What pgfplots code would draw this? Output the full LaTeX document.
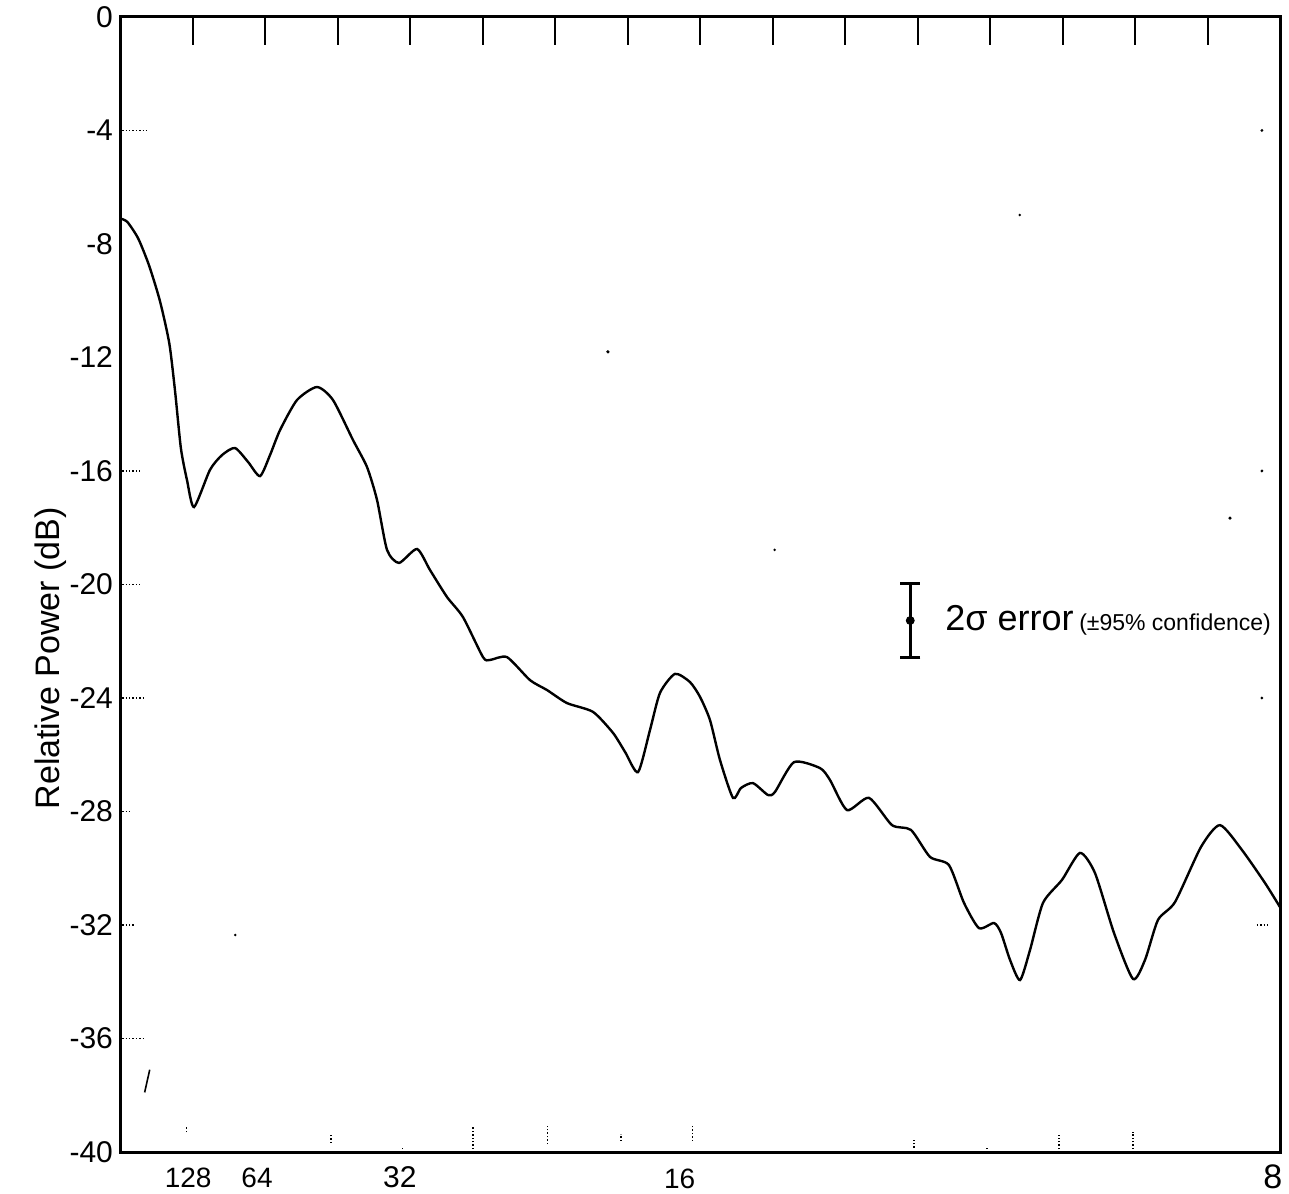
\documentclass[border=0pt]{standalone}
\usepackage{fontspec}
\setmainfont{Liberation Sans}
\usepackage{pgfplots}
\pgfplotsset{compat=1.18}
\usepackage{pgfplotstable}
\pgfplotstableread{
x y
0.000 -7.10
0.100 -7.22
0.250 -7.80
0.400 -8.75
0.550 -10.00
0.680 -11.50
0.760 -13.20
0.840 -15.20
0.924 -16.32
1.021 -17.27
1.241 -15.96
1.407 -15.44
1.586 -15.19
1.766 -15.68
1.931 -16.18
2.069 -15.44
2.207 -14.56
2.441 -13.50
2.717 -13.04
2.938 -13.50
3.214 -14.91
3.407 -15.86
3.545 -17.02
3.683 -18.78
3.848 -19.24
4.097 -18.75
4.276 -19.49
4.510 -20.44
4.731 -21.15
5.007 -22.56
5.103 -22.66
5.338 -22.56
5.655 -23.37
5.890 -23.72
6.166 -24.18
6.524 -24.49
6.800 -25.23
6.966 -25.90
7.145 -26.61
7.310 -25.13
7.448 -23.82
7.655 -23.15
7.862 -23.44
8.000 -23.96
8.138 -24.78
8.276 -26.19
8.455 -27.52
8.566 -27.17
8.731 -27.00
8.938 -27.42
9.034 -27.31
9.297 -26.26
9.655 -26.47
9.793 -26.89
10.028 -27.95
10.331 -27.52
10.648 -28.48
10.910 -28.65
11.172 -29.60
11.434 -29.89
11.641 -31.22
11.848 -32.11
12.055 -31.93
12.152 -32.28
12.276 -33.23
12.414 -33.94
12.552 -32.88
12.731 -31.22
12.993 -30.41
13.241 -29.46
13.448 -30.17
13.710 -32.28
13.972 -33.90
14.138 -33.23
14.317 -31.82
14.552 -31.19
14.910 -29.25
15.172 -28.48
15.476 -29.36
15.793 -30.52
16.000 -31.37
}\spectrum
\tikzset{dt/.style={densely dotted, line width=0.7pt}}
\begin{document}
\begin{tikzpicture}
\path[use as bounding box] (-60pt,-20.5pt) rectangle (584.5pt,576pt);
\begin{axis}[name=ax, at={(0,0)}, anchor=south west,
  scale only axis, width=580pt, height=567.5pt,
  xmin=0, xmax=16, ymin=-40, ymax=0,
  axis line style={line width=1.5pt},
  xtick={1,...,15}, xticklabels={}, xtick pos=right,
  tick align=inside, major tick length=14pt,
  x tick style={line width=1pt, black},
  ytick={0,-4,-8,-12,-16,-20,-24,-28,-32,-36,-40},
  yticklabels={0,-4,-8,-12,-16,-20,-24,-28,-32,-36,-40},
  ytick pos=left, y tick style={draw=none},
  yticklabel style={font=\fontsize{15}{15}\selectfont},
  clip=false,
]
\addplot[black, line width=1.2pt, smooth, tension=0.4] table {\spectrum};
% error bar annotation
\addplot[black, only marks, mark=*, mark size=2pt,
  error bars/.cd, y dir=both, y explicit,
  error bar style={line width=1.5pt},
  error mark options={rotate=90, mark size=5pt, line width=1.5pt}]
  coordinates {(10.9,-21.27) +- (0,1.32)};
\node[anchor=west, inner sep=0pt] at (axis cs:11.38,-21.25)
  {{\fontsize{18}{18}\selectfont 2σ error} {\fontsize{11.5}{11.5}\selectfont (±95\% confidence)}};
% x labels
\node[font=\fontsize{14}{14}\selectfont] at (axis cs:0.94,-40.92) {128};
\node[font=\fontsize{14}{14}\selectfont] at (axis cs:1.89,-40.92) {64};
\node[font=\fontsize{15}{15}\selectfont] at (axis cs:3.86,-40.90) {32};
\node[font=\fontsize{14}{14}\selectfont] at (axis cs:7.72,-40.95) {16};
\node[font=\fontsize{17}{17}\selectfont] at (axis cs:15.90,-40.88) {8};
% y label
\node[rotate=90, font=\fontsize{17}{17}\selectfont] at (axis cs:-0.95,-22.6) {Relative Power (dB)};
% small dotted ticks on the left
\draw[dt] (axis cs:0.03,-4) -- (axis cs:0.40,-4);
\draw[dt] (axis cs:0.03,-16) -- (axis cs:0.28,-16);
\draw[dt] (axis cs:0.03,-20) -- (axis cs:0.28,-20);
\draw[dt] (axis cs:0.03,-24) -- (axis cs:0.35,-24);
\draw[dt] (axis cs:0.03,-28) -- (axis cs:0.15,-28);
\draw[dt] (axis cs:0.03,-32) -- (axis cs:0.20,-32);
\draw[dt] (axis cs:0.03,-36) -- (axis cs:0.35,-36);
% right-side marks
\fill (axis cs:15.75,-4) circle (0.8pt);
\fill (axis cs:15.75,-16) circle (0.8pt);
\fill (axis cs:15.75,-24) circle (0.8pt);
\draw[dt] (axis cs:15.68,-32) -- (axis cs:15.86,-32);
% bottom dotted ticks
\draw[dt] (axis cs:0.92,-39.30) -- (axis cs:0.92,-39.08);
\draw[dt] (axis cs:2.91,-39.68) -- (axis cs:2.91,-39.37);
\draw[dt] (axis cs:3.90,-39.90) -- (axis cs:3.90,-39.80);
\draw[dt] (axis cs:4.87,-39.90) -- (axis cs:4.87,-39.12);
\draw[dt] (axis cs:5.90,-39.72) -- (axis cs:5.90,-39.08);
\draw[dt] (axis cs:6.91,-39.61) -- (axis cs:6.91,-39.37);
\draw[dt] (axis cs:7.90,-39.61) -- (axis cs:7.90,-39.08);
\draw[dt] (axis cs:8.92,-40.00) -- (axis cs:8.92,-39.90);
\draw[dt] (axis cs:9.93,-40.00) -- (axis cs:9.93,-39.90);
\draw[dt] (axis cs:10.95,-39.85) -- (axis cs:10.95,-39.55);
\draw[dt] (axis cs:11.96,-39.90) -- (axis cs:11.96,-39.80);
\draw[dt] (axis cs:12.95,-39.90) -- (axis cs:12.95,-39.40);
\draw[dt] (axis cs:13.97,-39.90) -- (axis cs:13.97,-39.30);
\draw[dt] (axis cs:14.97,-40.00) -- (axis cs:14.97,-39.90);
% stray specks of the original
\fill (axis cs:6.73,-11.8) circle (0.9pt);
\fill (axis cs:12.41,-6.98) circle (0.7pt);
\fill (axis cs:15.31,-17.66) circle (0.9pt);
\fill (axis cs:9.03,-18.78) circle (0.7pt);
\fill (axis cs:1.59,-32.35) circle (0.7pt);
\draw[line width=0.8pt] (axis cs:0.34,-37.9) -- (axis cs:0.41,-37.1);
\end{axis}
\end{tikzpicture}
\end{document}
